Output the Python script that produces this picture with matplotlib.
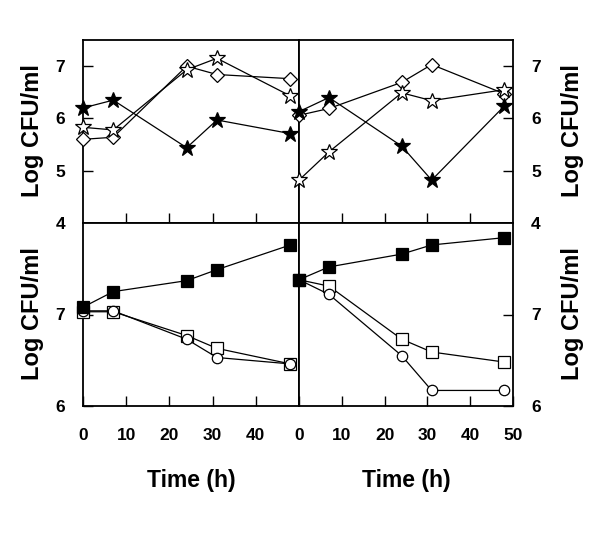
import matplotlib
matplotlib.use("Agg")
import matplotlib.pyplot as plt

plt.rcParams['font.family'] = ['Liberation Sans', 'DejaVu Sans']
plt.rcParams['font.weight'] = 'bold'

# Data
time = [0, 7, 24, 31, 48]

# Top-left panel
tl_filled_star = [6.20, 6.35, 5.44, 5.97, 5.71]
tl_open_star = [5.83, 5.78, 6.93, 7.15, 6.43]
tl_open_diamond = [5.60, 5.64, 7.00, 6.84, 6.76]

# Top-right panel
tr_filled_star = [6.13, 6.40, 5.47, 4.82, 6.24]
tr_open_star = [4.82, 5.36, 6.49, 6.34, 6.55]
tr_open_diamond = [6.06, 6.19, 6.69, 7.03, 6.47]

# Bottom-left panel
bl_filled_square = [7.08, 7.25, 7.37, 7.49, 7.76]
bl_open_square = [7.03, 7.03, 6.77, 6.63, 6.46]
bl_open_circle = [7.04, 7.04, 6.73, 6.53, 6.46]

# Bottom-right panel
br_filled_square = [7.38, 7.52, 7.66, 7.76, 7.84]
br_open_square = [7.38, 7.31, 6.73, 6.59, 6.48]
br_open_circle = [7.38, 7.22, 6.55, 6.17, 6.17]

xticks_left = [0, 10, 20, 30, 40]
xticks_right = [0, 10, 20, 30, 40, 50]
yticks_top = [4, 5, 6, 7]
yticks_bottom = [6, 7]

W, H = 600, 533
fig = plt.figure(figsize=(6, 5.33), dpi=100)

def frac(x0, x1, y0, y1):
    return [x0 / W, 1 - y1 / H, (x1 - x0) / W, (y1 - y0) / H]

ax_tl = fig.add_axes(frac(83, 299, 40, 223))
ax_tr = fig.add_axes(frac(299, 513, 40, 223))
ax_bl = fig.add_axes(frac(83, 299, 223, 406))
ax_br = fig.add_axes(frac(299, 513, 223, 406))

lw = 0.9
ms_sq = 8.5
ms_ci = 7.5
ms_st = 12
ms_di = 7

def plot(ax, y, marker, filled, ms):
    ax.plot(time, y, color='black', lw=lw, marker=marker, ms=ms,
            mfc='black' if filled else 'white', mec='black', mew=0.9,
            clip_on=False, zorder=3 if not filled else 4)

plot(ax_tl, tl_open_diamond, 'D', False, ms_di)
plot(ax_tl, tl_open_star, '*', False, ms_st)
plot(ax_tl, tl_filled_star, '*', True, ms_st)

plot(ax_tr, tr_open_diamond, 'D', False, ms_di)
plot(ax_tr, tr_open_star, '*', False, ms_st)
plot(ax_tr, tr_filled_star, '*', True, ms_st)

plot(ax_bl, bl_open_square, 's', False, ms_sq)
plot(ax_bl, bl_open_circle, 'o', False, ms_ci)
plot(ax_bl, bl_filled_square, 's', True, ms_sq)

plot(ax_br, br_open_square, 's', False, ms_sq)
plot(ax_br, br_open_circle, 'o', False, ms_ci)
plot(ax_br, br_filled_square, 's', True, ms_sq)

for ax in (ax_tl, ax_tr, ax_bl, ax_br):
    ax.set_xlim(0, 50)
    for s in ax.spines.values():
        s.set_linewidth(1.3)
    ax.tick_params(direction='in', length=7, width=1.0, labelsize=12.5)

for ax in (ax_tl, ax_tr):
    ax.set_ylim(4, 7.5)
    ax.set_yticks(yticks_top)
    ax.set_xticks([10, 20, 30, 40])
    ax.tick_params(axis='x', labelbottom=False)

for ax in (ax_bl, ax_br):
    ax.set_ylim(6, 8)
    ax.set_yticks(yticks_bottom)
    ax.tick_params(axis='x', pad=16)

ax_bl.set_xticks(xticks_left)
ax_br.set_xticks(xticks_right)

for ax in (ax_tl, ax_bl):
    ax.tick_params(axis='y', left=True, right=False, labelleft=True, pad=13)
for ax in (ax_tr, ax_br):
    ax.tick_params(axis='y', left=False, right=True, labelleft=False,
                   labelright=True, pad=13)

for t in ax_bl.get_xticklabels() + ax_br.get_xticklabels():
    t.set_fontweight('bold')
for ax in (ax_tl, ax_tr, ax_bl, ax_br):
    for t in ax.get_yticklabels():
        t.set_fontweight('bold')

lab_fs = 17
fig.text(33 / W, 1 - 131 / H, 'Log CFU/ml', rotation=90, ha='center', va='center',
         fontsize=lab_fs, fontweight='bold')
fig.text(33 / W, 1 - 314 / H, 'Log CFU/ml', rotation=90, ha='center', va='center',
         fontsize=lab_fs, fontweight='bold')
fig.text(572 / W, 1 - 131 / H, 'Log CFU/ml', rotation=90, ha='center', va='center',
         fontsize=lab_fs, fontweight='bold')
fig.text(572 / W, 1 - 314 / H, 'Log CFU/ml', rotation=90, ha='center', va='center',
         fontsize=lab_fs, fontweight='bold')
fig.text(191 / W, 1 - 480 / H, 'Time (h)', ha='center', va='center',
         fontsize=16.5, fontweight='bold')
fig.text(406 / W, 1 - 480 / H, 'Time (h)', ha='center', va='center',
         fontsize=16.5, fontweight='bold')

fig.savefig('out.png', dpi=100)
